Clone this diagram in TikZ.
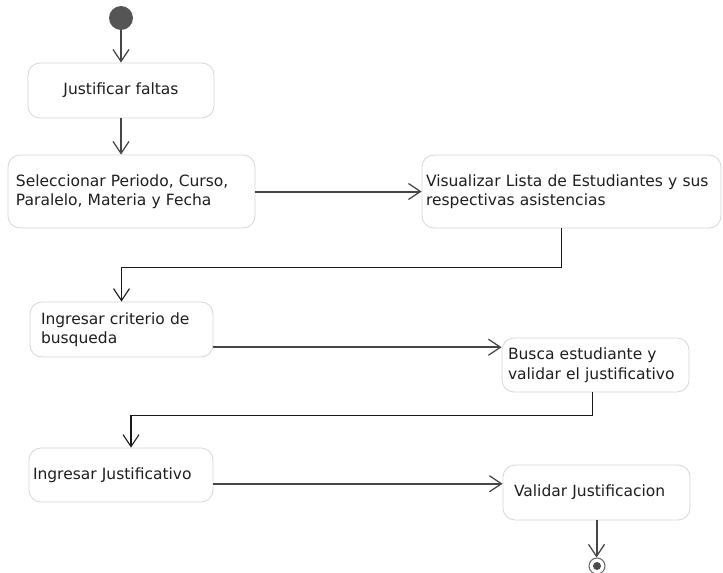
\documentclass[tikz,border=0pt]{standalone}
\usepackage{fontspec}
\setmainfont{DejaVu Sans}
\usepackage{tikz}
\usetikzlibrary{
  arrows.meta,
  positioning
}
\definecolor{BordeGris}{RGB}{214, 214, 214}
\definecolor{TextoGris}{RGB}{30, 30, 30}
\definecolor{FlechaGris}{RGB}{70, 70, 70}
\definecolor{InicioGris}{RGB}{85, 85, 85}
\tikzset{
    actividad/.style={rectangle, draw=BordeGris, line width=0.8pt, fill=white, rounded corners=12pt,
        font=\fontsize{15.5}{19.5}\selectfont, text=TextoGris, align=left},
    flecha/.style={-{Straight Barb[length=12pt, width=16pt, line width=1.3pt]}, line width=2pt, draw=FlechaGris},
    codo/.style={-{Straight Barb[length=12pt, width=16pt, line width=1.1pt]}, line width=1.1pt, draw=black!90},
}

\begin{document}
\begin{tikzpicture}[x=1pt, y=-1pt]
    \useasboundingbox[fill=white] (0,0) rectangle (723,573);
    % nodos inicial y final
    \node[circle, fill=InicioGris, minimum size=24pt, inner sep=0pt] (inicio) at (121,18) {};
    \node[circle, draw=black!60, line width=1pt, fill=white, minimum size=16pt, inner sep=0pt] (fin) at (597,566) {};
    \fill[black!70] (fin.center) circle (4pt);
    % actividades
    \node[actividad, minimum width=186pt, minimum height=55pt, text width=170pt, align=center] (justificar) at (121,90.5) {Justificar faltas};
    \node[actividad, minimum width=247pt, minimum height=73pt, inner xsep=8pt, text width=231pt] (seleccionar) at (131.5,191.5) {Seleccionar Periodo, Curso,\\Paralelo, Materia y Fecha};
    \node[actividad, minimum width=299pt, minimum height=73pt, inner xsep=4pt, text width=291pt] (visualizar) at (571.5,191.5) {Visualizar Lista de Estudiantes y sus\\respectivas asistencias};
    \node[actividad, minimum width=183pt, minimum height=55pt, inner xsep=11pt, text width=161pt] (criterio) at (121.5,329.5) {Ingresar criterio de\\busqueda};
    \node[actividad, minimum width=187pt, minimum height=54pt, inner xsep=6pt, text width=175pt] (buscar) at (595.5,365) {Busca estudiante y\\validar el justificativo};
    \node[actividad, minimum width=184pt, minimum height=54pt, inner xsep=4pt, text width=176pt] (ingresar) at (121,475) {Ingresar Justificativo};
    \node[actividad, minimum width=187pt, minimum height=55pt, inner xsep=11pt, text width=165pt] (validar) at (596.5,492.5) {Validar Justificacion};
    % flujo
    \draw[flecha] (inicio) -- (justificar);
    \draw[flecha] (justificar.south) -- (justificar.south |- seleccionar.north);
    \draw[flecha] (seleccionar) -- (visualizar);
    \draw[codo] ([xshift=-10pt]visualizar.south) -- ++(0,39) -| (criterio.north);
    \path (criterio.east) -- (buscar.west) coordinate[midway] (m1);
    \draw[flecha] (criterio.east |- m1) -- (buscar.west |- m1);
    \draw[codo] ([xshift=-3pt]buscar.south) -- ++(0,23) -| ([xshift=10pt]ingresar.north);
    \path (ingresar.east) -- (validar.west) coordinate[midway] (m2);
    \draw[flecha] (ingresar.east |- m2) -- (validar.west |- m2);
    \draw[flecha] (validar.south) -- (validar.south |- fin.north);
\end{tikzpicture}
\end{document}
